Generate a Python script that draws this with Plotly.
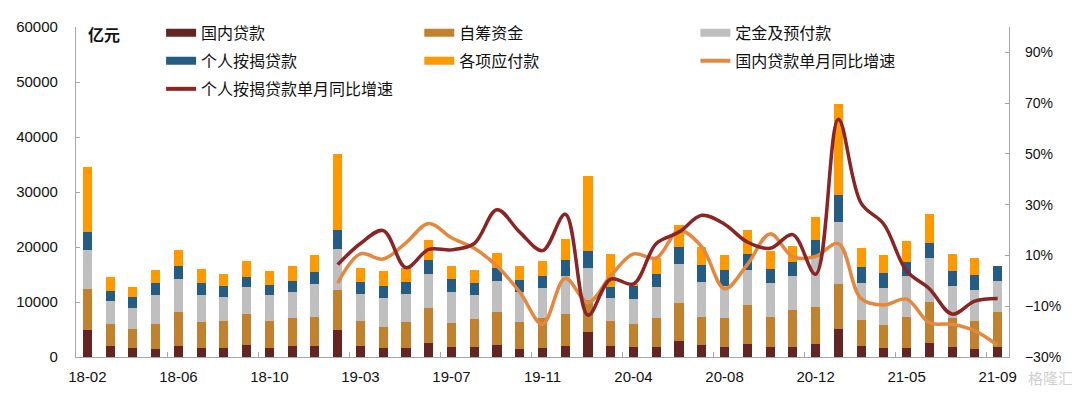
import plotly.graph_objects as go

# ---------------- data ----------------
categories = [
    "18-02", "18-03", "18-04", "18-05", "18-06", "18-07", "18-08", "18-09", "18-10", "18-11", "18-12",
    "19-02", "19-03", "19-04", "19-05", "19-06", "19-07", "19-08", "19-09", "19-10", "19-11", "19-12",
    "20-02", "20-03", "20-04", "20-05", "20-06", "20-07", "20-08", "20-09", "20-10", "20-11", "20-12",
    "21-02", "21-03", "21-04", "21-05", "21-06", "21-07", "21-08", "21-09",
]
tick_labels = ["18-02", "18-06", "18-10", "19-03", "19-07", "19-11", "20-04", "20-08", "20-12", "21-05", "21-09"]
y2_tickvals = [-30, -10, 10, 30, 50, 70, 90]
y2_ticktext = ["−30%", "−10%", "10%", "30%", "50%", "70%", "90%"]

# 亿元
domestic_loans = [4940, 1940, 1650, 1530, 2060, 1710, 1710, 2180, 1710, 2060, 2060,
                  4880, 2000, 1710, 1710, 2470, 1880, 1820, 2240, 1470, 1650, 2060,
                  4470, 2000, 1880, 1880, 2940, 2240, 1760, 2350, 1760, 1760, 2290,
                  5120, 1940, 1710, 1710, 2470, 1880, 1410, 1760]
self_raised = [7410, 4000, 3410, 4530, 6060, 4640, 4760, 5700, 4820, 5120, 5290,
               7360, 4590, 3820, 4580, 6410, 4360, 5060, 5940, 4940, 5470, 5760,
               5830, 4590, 4180, 5240, 6880, 5050, 5300, 7180, 5530, 6710, 6770,
               8230, 4710, 4170, 5580, 7470, 5180, 5180, 6420]
deposits_prepay = [7060, 4180, 3880, 5230, 6000, 4940, 4410, 4830, 4760, 4580, 5940,
                   7410, 4940, 5120, 5180, 6180, 5520, 4360, 5640, 5410, 5410, 6830,
                   5940, 4060, 4470, 5530, 7060, 6420, 5940, 6350, 6240, 6180, 9230,
                   11120, 6820, 6650, 7420, 8000, 5940, 5650, 5700]
mortgage_loans = [3240, 1940, 2000, 2120, 2350, 2120, 1940, 1880, 1830, 2060, 2240,
                  3410, 2180, 2350, 2180, 2530, 2360, 2230, 2360, 2240, 2230, 2940,
                  3050, 2060, 2410, 2530, 3060, 3050, 2820, 2830, 2530, 2590, 2950,
                  4940, 2820, 2820, 2530, 2820, 2650, 2580, 2710]
payables = [11880, 2530, 1820, 2470, 3060, 2650, 2360, 2820, 2590, 2650, 3060,
            13940, 2410, 2590, 2450, 3760, 2470, 2410, 2700, 2470, 2770, 3940,
            13710, 6050, 180, 2820, 4120, 3180, 2770, 4350, 3180, 2940, 4230,
            16650, 3470, 3120, 3820, 5180, 3060, 3240, 0]

# 单月同比增速 (%)
domestic_yoy = [None] * 11 + [
    -0.9, 10.6, 8.6, 15.0, 22.6, 17.0, 12.8, 5.8, -4.4, -17.1, 1.0,
    -8.5, 2.0, 10.6, 9.0, 19.8, 13.4, -3.1, 6.4, 18.5, 9.5, 9.6,
    14.7, -7.0, -9.5, -7.2, -16.5, -17.1, -19.7, -25.4]
mortgage_yoy = [None] * 11 + [
    6.4, 14.7, 19.8, 5.2, 12.4, 12.2, 14.7, 28.0, 19.2, 11.9, 26.2,
    -13.5, 0.7, -1.2, 14.7, 19.2, 25.8, 22.3, 15.3, 12.8, 18.2, 2.6,
    63.7, 30.6, 22.3, 3.9, -3.1, -13.1, -8.0, -7.0]

bar_names = ["国内贷款", "自筹资金", "定金及预付款", "个人按揭贷款", "各项应付款"]
line_names = ["国内贷款单月同比增速", "个人按揭贷款单月同比增速"]

# ---------------- style ----------------
bar_colors = ["#632523", "#C0822F", "#BFBFBF", "#255C84", "#FF9900"]
line_colors = ["#E3883E", "#8B2424"]
axis_color = "#A6A6A6"
font_main = "Liberation Sans, Arial, Noto Sans CJK SC"
font_cjk = "Noto Sans CJK SC, Liberation Sans"

# page geometry (the html body adds an 8px offset)
OFF = 8
W, H = 1080, 393
plot_l, plot_r, plot_t, plot_b = 66, 1009, 16, 357   # plot area in page pixels
pw, ph = plot_r - plot_l, plot_b - plot_t

fig = go.Figure()

bar_series = [domestic_loans, self_raised, deposits_prepay, mortgage_loans, payables]
for name, vals, col in zip(bar_names, bar_series, bar_colors):
    fig.add_trace(go.Bar(
        x=categories, y=vals, name=name, legendgroup=name, showlegend=False,
        width=0.4, marker=dict(color=col, line=dict(width=0)),
    ))

for name, vals, col in zip(line_names, [domestic_yoy, mortgage_yoy], line_colors):
    fig.add_trace(go.Scatter(
        x=categories, y=vals, name=name, legendgroup=name, showlegend=False,
        yaxis="y2", mode="lines",
        line=dict(color=col, width=3.5, shape="spline", smoothing=1),
    ))

# legend entries (wide swatches like the original), one legend box per item
legend_order = ["国内贷款", "自筹资金", "定金及预付款",
                "个人按揭贷款", "各项应付款", "国内贷款单月同比增速",
                "个人按揭贷款单月同比增速"]
all_colors = dict(zip(bar_names + line_names, bar_colors + line_colors))
col_px = [152, 413, 692]
row_py = [22, 51, 80]
layout_legends = {}
for i, name in enumerate(legend_order):
    key = "legend" if i == 0 else f"legend{i + 1}"
    is_line = name in line_names
    fig.add_trace(go.Scatter(
        x=[None], y=[None], name=name, legendgroup=name, legend=key,
        mode="lines", line=dict(color=all_colors[name], width=4 if is_line else 8),
        showlegend=True,
    ))
    px = col_px[i % 3]
    py = row_py[i // 3]
    layout_legends[key] = dict(
        x=(px - plot_l) / pw, xanchor="left",
        y=(plot_b - py) / ph, yanchor="middle",
        bgcolor="rgba(0,0,0,0)", borderwidth=0,
        font=dict(family=font_cjk, size=16, color="#111111"),
        itemwidth=30,
    )

fig.update_layout(
    width=W - OFF, height=H - OFF,
    margin=dict(l=plot_l - OFF, r=W - plot_r, t=plot_t - OFF, b=H - plot_b, pad=0),
    paper_bgcolor="white", plot_bgcolor="white",
    barmode="stack",
    showlegend=True,
    xaxis=dict(
        type="category", categoryorder="array", categoryarray=categories,
        range=[-0.5, len(categories) - 0.5],
        tickmode="array", tickvals=tick_labels, ticktext=tick_labels,
        tickson="boundaries", ticks="inside", ticklen=5, tickcolor=axis_color,
        tickangle=0,
        showline=True, linecolor=axis_color, linewidth=1.3,
        showgrid=False, zeroline=False,
        tickfont=dict(family=font_main, size=15, color="#111111"),
        ticklabelstandoff=6,
    ),
    yaxis=dict(
        range=[0, 60000], tick0=0, dtick=10000, tickformat="d",
        ticks="inside", ticklen=4, tickcolor=axis_color,
        showline=True, linecolor=axis_color, linewidth=1.3,
        showgrid=False, zeroline=False,
        tickfont=dict(family=font_main, size=15, color="#111111"),
        ticklabelstandoff=14,
    ),
    yaxis2=dict(
        overlaying="y", side="right", anchor="x",
        range=[-30, 100],
        tickmode="array", tickvals=y2_tickvals, ticktext=y2_ticktext,
        ticks="inside", ticklen=4, tickcolor=axis_color,
        showline=True, linecolor=axis_color, linewidth=1.3,
        showgrid=False, zeroline=False,
        tickfont=dict(family=font_main, size=14, color="#111111"),
        ticklabelstandoff=12,
    ),
    annotations=[
        dict(text="<b>亿元</b>", xref="paper", yref="paper",
             x=(76 - plot_l) / pw, xanchor="left",
             y=(plot_b - 23) / ph, yanchor="middle",
             showarrow=False, font=dict(family=font_cjk, size=16, color="#111111")),
        dict(text="格隆汇", xref="paper", yref="paper",
             x=1.0 + (1076 - plot_r) / pw, xanchor="right",
             y=-(378 - plot_b) / ph, yanchor="middle",
             showarrow=False, font=dict(family=font_cjk, size=15, color="#D0D0D0")),
    ],
    **layout_legends,
)

fig.write_html("out.html")
